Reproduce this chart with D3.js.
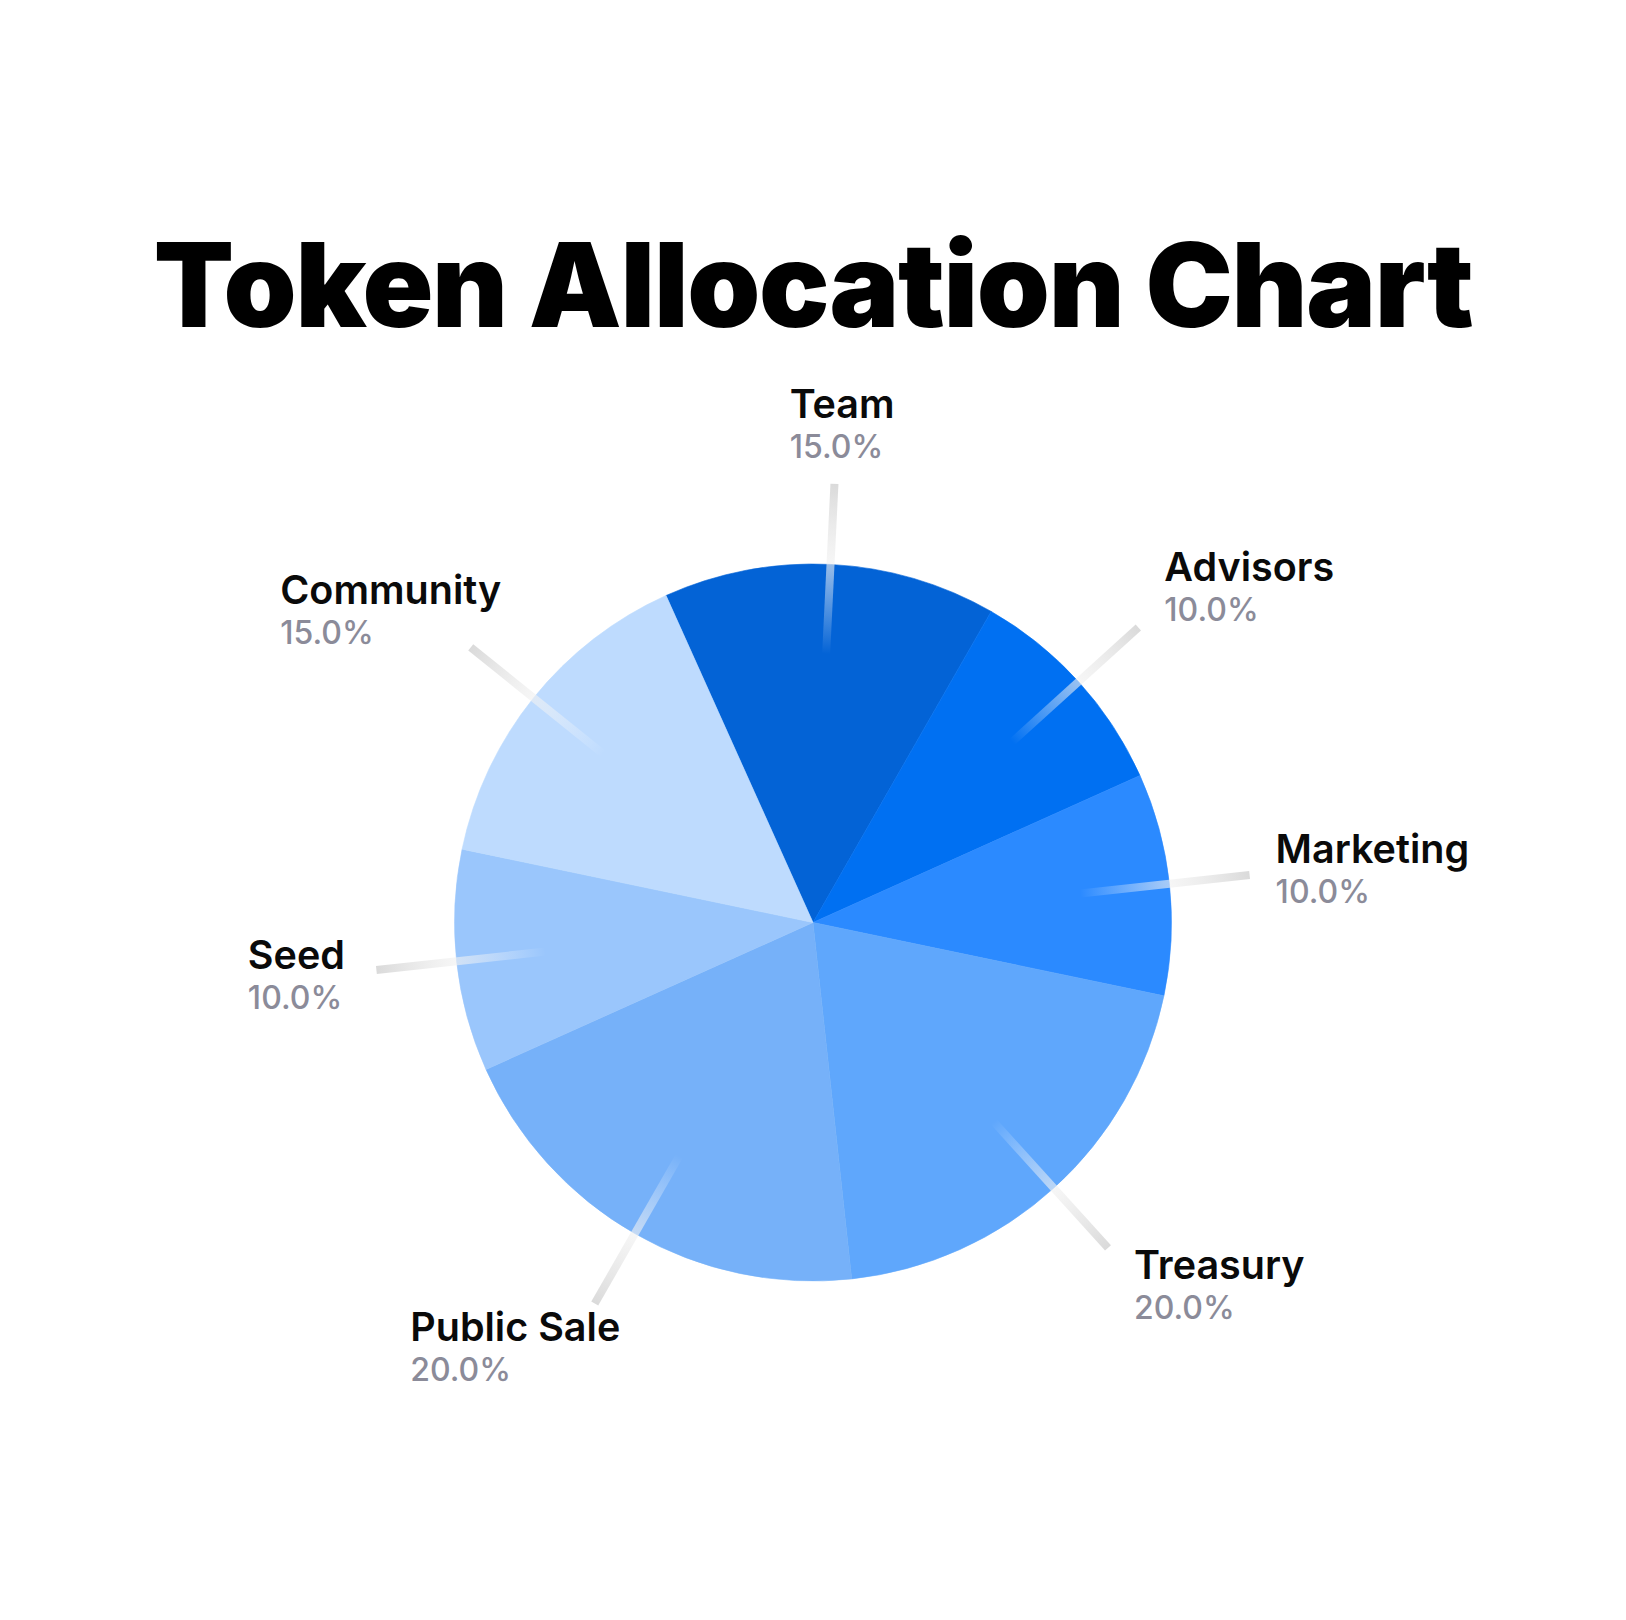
<!DOCTYPE html>
<html>
<head>
<meta charset="utf-8">
<script src="https://cdn.jsdelivr.net/npm/d3@7"></script>
<style>
  html, body { margin: 0; padding: 0; background: #ffffff; }
  svg { display: block; }
</style>
</head>
<body>
<svg id="chart" width="1626" height="1620"></svg>
<script>
// ---- data ----
const title = "Token Allocation Chart";
const categories = ["Team", "Advisors", "Marketing", "Treasury", "Public Sale", "Seed", "Community"];
const values = [15, 10, 10, 20, 20, 10, 15];
const sliceColors = ["#0363D6", "#0070F2", "#2B8AFF", "#5FA7FC", "#76B1F9", "#9AC6FC", "#BEDBFE"];

// ---- layout ----
const W = 1626, H = 1620;
const cx = 813, cy = 922.5, R = 358.5;
const startDeg = -24.2;
const lineInner = R * 0.75, lineOuter = R * 1.225;

const svg = d3.select("#chart");
const defs = svg.append("defs");

// title
const titleText = svg.append("text")
  .attr("x", cx).attr("y", 327)
  .attr("text-anchor", "middle")
  .style("font-family", "Inter, 'Noto Sans', sans-serif")
  .style("font-weight", 900)
  .style("font-size", "117px")
  .attr("fill", "#000")
  .text(title);
// fit title width to target
const targetTitleW = 1320;
const tw = titleText.node().getComputedTextLength();
titleText.style("letter-spacing", ((targetTitleW - tw) / (title.length - 1)) + "px");

const total = d3.sum(values);
const rows = categories.map((c, i) => ({ name: c, value: values[i], color: sliceColors[i], pct: (values[i] / total * 100).toFixed(1) + "%" }));

const pie = d3.pie().sort(null).value(d => d.value)
  .startAngle(startDeg * Math.PI / 180)
  .endAngle((startDeg + 360) * Math.PI / 180);
const arc = d3.arc().innerRadius(0).outerRadius(R);
const arcs = pie(rows);

const g = svg.append("g").attr("transform", `translate(${cx},${cy})`);
g.selectAll("path.slice").data(arcs).join("path")
  .attr("class", "slice")
  .attr("d", arc)
  .attr("fill", d => d.data.color)
  .attr("stroke", d => d.data.color)
  .attr("stroke-width", 0.6);

// leader lines with fading gradients
arcs.forEach((d, i) => {
  const a = (d.startAngle + d.endAngle) / 2;
  const s = Math.sin(a), c = Math.cos(a);
  const x1 = s * lineInner, y1 = -c * lineInner;
  const x2 = s * lineOuter, y2 = -c * lineOuter;
  const gid = "lg" + i;
  const lg = defs.append("linearGradient").attr("id", gid)
    .attr("gradientUnits", "userSpaceOnUse")
    .attr("x1", cx + x1).attr("y1", cy + y1).attr("x2", cx + x2).attr("y2", cy + y2);
  lg.append("stop").attr("offset", 0).attr("stop-color", "#ffffff").attr("stop-opacity", 0);
  lg.append("stop").attr("offset", 0.5).attr("stop-color", "#f2f2f2").attr("stop-opacity", 0.6);
  lg.append("stop").attr("offset", 1).attr("stop-color", "#dadada").attr("stop-opacity", 1);
  svg.append("line")
    .attr("x1", cx + x1).attr("y1", cy + y1).attr("x2", cx + x2).attr("y2", cy + y2)
    .attr("stroke", `url(#${gid})`)
    .attr("stroke-width", 8)
    .attr("stroke-linecap", "butt");
  d.ox = cx + x2; d.oy = cy + y2; d.s = s; d.c = c;
});

// labels
arcs.forEach(d => {
  const lab = svg.append("g");
  const nameT = lab.append("text")
    .attr("x", 0).attr("y", 0)
    .style("font-family", "Inter, 'Noto Sans', sans-serif")
    .style("font-weight", 600)
    .style("font-size", "39.5px")
    .attr("fill", "#0a0a0a")
    .text(d.data.name);
  const pctT = lab.append("text")
    .attr("x", 0).attr("y", 40)
    .style("font-family", "Inter, 'Noto Sans', sans-serif")
    .style("font-weight", 500)
    .style("font-size", "32px")
    .attr("fill", "#8b8b99")
    .text(d.data.pct);
  const w = Math.max(nameT.node().getComputedTextLength(), pctT.node().getComputedTextLength());
  const t = Math.min(1, 2 * Math.abs(d.s));
  const bcx = d.s >= 0 ? d.ox + t * (26 + w / 2) : d.ox - t * 80;
  const bcy = d.oy - (d.c > 0 ? 60 : 50) * d.c;
  lab.attr("transform", `translate(${bcx - w / 2},${bcy - 6})`);
});
</script>
</body>
</html>
